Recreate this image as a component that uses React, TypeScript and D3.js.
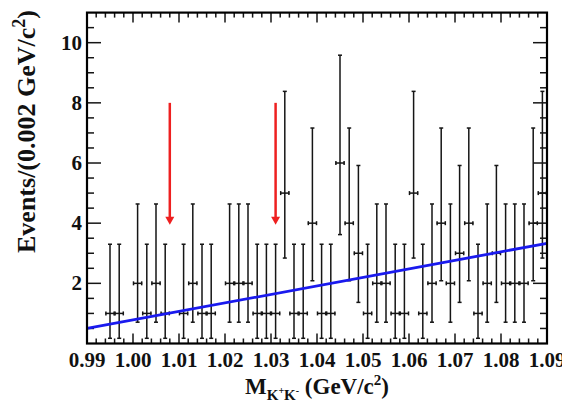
import { useEffect, useRef } from 'react';
import * as d3 from 'd3';

const massMin = 0.99;
const massMax = 1.09;
const binWidth = 0.002;

// events per 2 MeV/c^2 bin, starting at 0.990
const counts = [
  0, 0, 1, 1, 0, 2, 1, 2, 1, 0,
  1, 2, 1, 1, 0, 2, 2, 2, 1, 1,
  1, 5, 1, 1, 4, 1, 1, 6, 4, 3,
  1, 2, 2, 1, 1, 5, 1, 2, 4, 2,
  3, 4, 1, 2, 3, 2, 2, 2, 4, 5,
];

// 68.3% CL Poisson interval (Garwood) for n = 0..6
const poissonLow = [0, 0.173, 0.708, 1.367, 2.086, 2.84, 3.62];
const poissonHigh = [1.841, 3.3, 4.638, 5.918, 7.163, 8.382, 9.584];

const xTickLabels = ['0.99', '1.00', '1.01', '1.02', '1.03', '1.04', '1.05', '1.06', '1.07', '1.08', '1.09'];
const yTickLabels = [2, 4, 6, 8, 10];

// background fit, straight line across the window
const bkgMass = [0.99, 1.09];
const bkgEvents = [0.5, 3.33];

// signal region markers
const arrowMass = [1.008, 1.031];
const arrowFrom = 8;
const arrowTo = 3.95;

const W = 562;
const H = 414;
const FONT = '"Liberation Serif", "Times New Roman", serif';

export default function App() {
  const svgRef = useRef<SVGSVGElement>(null);

  useEffect(() => {
    if (!svgRef.current) return;
    const svg = d3.select(svgRef.current);
    svg.selectAll('*').remove();

    const left = 87, right = 547, top = 12.6, bottom = 343.5;
    const x = d3.scaleLinear().domain([massMin, massMax]).range([left, right]);
    const y = d3.scaleLinear().domain([0, 11]).range([bottom, top]);

    const ink = '#151515';

    // x ticks, top and bottom
    const xMinor = d3.range(0, 51).map(i => massMin + i * binWidth);
    const xt = svg.append('g').attr('stroke', ink).attr('stroke-width', 1.5);
    xMinor.forEach((m, i) => {
      const len = i % 5 === 0 ? 10 : 5;
      xt.append('line').attr('x1', x(m)).attr('x2', x(m)).attr('y1', bottom).attr('y2', bottom - len);
      xt.append('line').attr('x1', x(m)).attr('x2', x(m)).attr('y1', top).attr('y2', top + len);
    });

    // y ticks, left and right
    const yMinor = d3.range(1, 22).map(i => i * 0.5);
    const yt = svg.append('g').attr('stroke', ink).attr('stroke-width', 1.5);
    yMinor.forEach(v => {
      const len = v % 2 === 0 ? 14 : 7;
      yt.append('line').attr('x1', left).attr('x2', left + len).attr('y1', y(v)).attr('y2', y(v));
      yt.append('line').attr('x1', right).attr('x2', right - len).attr('y1', y(v)).attr('y2', y(v));
    });

    // error bars
    const bars = svg.append('g').attr('stroke', ink).attr('stroke-width', 1.5);
    counts.forEach((n, i) => {
      if (n === 0) return;
      const c = massMin + (i + 0.5) * binWidth;
      const cx = x(c);
      const x0 = x(c - binWidth / 2);
      const x1 = x(c + binWidth / 2);
      const yl = y(poissonLow[n]);
      const yh = y(poissonHigh[n]);
      const yv = y(n);
      bars.append('line').attr('x1', cx).attr('x2', cx).attr('y1', yl).attr('y2', yh);
      bars.append('line').attr('x1', cx - 2).attr('x2', cx + 2).attr('y1', yl).attr('y2', yl);
      bars.append('line').attr('x1', cx - 2).attr('x2', cx + 2).attr('y1', yh).attr('y2', yh);
      bars.append('line').attr('x1', x0).attr('x2', x1).attr('y1', yv).attr('y2', yv);
      bars.append('line').attr('x1', x0 + 0.5).attr('x2', x0 + 0.5).attr('y1', yv - 2).attr('y2', yv + 2);
      bars.append('line').attr('x1', x1 - 0.5).attr('x2', x1 - 0.5).attr('y1', yv - 2).attr('y2', yv + 2);
    });

    // background line
    const line = d3.line<number>().x((d, i) => x(bkgMass[i])).y(d => y(d));
    svg.append('path')
      .attr('d', line(bkgEvents))
      .attr('fill', 'none')
      .attr('stroke', '#1a1aee')
      .attr('stroke-width', 2.8);

    // arrows
    arrowMass.forEach(m => {
      const ax = x(m);
      const tip = y(arrowTo);
      svg.append('line')
        .attr('x1', ax).attr('x2', ax)
        .attr('y1', y(arrowFrom)).attr('y2', tip - 6)
        .attr('stroke', '#ee2020').attr('stroke-width', 2.5);
      svg.append('path')
        .attr('d', `M${ax - 4.5},${tip - 8} L${ax + 4.5},${tip - 8} L${ax},${tip} Z`)
        .attr('fill', '#ee2020');
    });

    // frame
    svg.append('rect')
      .attr('x', left).attr('y', top)
      .attr('width', right - left).attr('height', bottom - top)
      .attr('fill', 'none').attr('stroke', '#000').attr('stroke-width', 2.2);

    // tick labels
    svg.append('g')
      .selectAll('text')
      .data(xTickLabels)
      .join('text')
      .attr('x', d => x(+d))
      .attr('y', 367)
      .attr('text-anchor', 'middle')
      .attr('font-family', FONT)
      .attr('font-weight', 'bold')
      .attr('font-size', 21)
      .attr('fill', '#111')
      .text(d => d);

    svg.append('g')
      .selectAll('text')
      .data(yTickLabels)
      .join('text')
      .attr('x', 82)
      .attr('y', d => y(d) + 7)
      .attr('text-anchor', 'end')
      .attr('font-family', FONT)
      .attr('font-weight', 'bold')
      .attr('font-size', 21)
      .attr('fill', '#111')
      .text(d => d);

    // x title: M_{K+K-} (GeV/c^2)
    const xt2 = svg.append('text')
      .attr('x', (left + right) / 2)
      .attr('y', 394)
      .attr('text-anchor', 'middle')
      .attr('font-family', FONT)
      .attr('font-weight', 'bold')
      .attr('font-size', 23)
      .attr('fill', '#111');
    xt2.append('tspan').text('M');
    xt2.append('tspan').attr('font-size', 15).attr('dy', 6).text('K');
    xt2.append('tspan').attr('font-size', 10).attr('dy', -6).text('+');
    xt2.append('tspan').attr('font-size', 15).attr('dy', 6).text('K');
    xt2.append('tspan').attr('font-size', 10).attr('dy', -6).text('-');
    xt2.append('tspan').attr('dy', 0).text(' (GeV/c');
    xt2.append('tspan').attr('font-size', 15).attr('dy', -9).text('2');
    xt2.append('tspan').attr('dy', 9).text(')');

    // y title
    const yt2 = svg.append('text')
      .attr('transform', 'translate(35,10) rotate(-90)')
      .attr('text-anchor', 'end')
      .attr('font-family', FONT)
      .attr('font-weight', 'bold')
      .attr('font-size', 26)
      .attr('fill', '#111');
    yt2.append('tspan').text('Events/(0.002 GeV/c');
    yt2.append('tspan').attr('font-size', 18).attr('dy', -10).text('2');
    yt2.append('tspan').attr('dy', 10).text(')');
  }, []);

  return (
    <svg
      ref={svgRef}
      width={W}
      height={H}
      viewBox={`0 0 ${W} ${H}`}
      style={{ position: 'absolute', left: 0, top: 0, background: '#fff' }}
    />
  );
}
